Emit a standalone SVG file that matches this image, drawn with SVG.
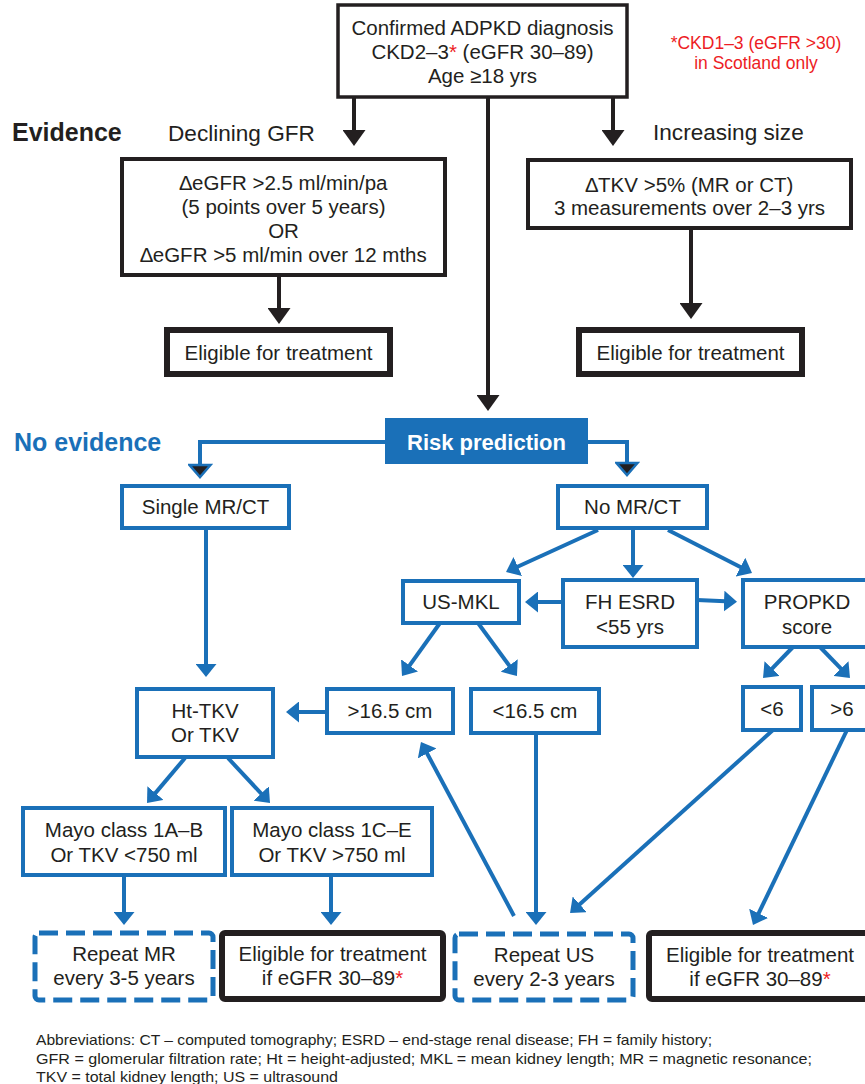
<svg xmlns="http://www.w3.org/2000/svg" width="865" height="1084" viewBox="0 0 865 1084">
<style>
text{font-family:"Liberation Sans",Arial,sans-serif;fill:#231f20;}
.t{font-size:20.5px;text-anchor:middle;}
.lab{font-size:22.6px;}
.hd{font-size:25px;font-weight:bold;}
.red{fill:#ed1c24;}
.bk{fill:#fff;stroke:#231f20;stroke-width:4;}
.bk6{fill:#fff;stroke:#231f20;stroke-width:6;}
.bl{fill:#fff;stroke:#1a70b8;stroke-width:4;}
.dash{fill:#fff;stroke:#1a70b8;stroke-width:5;stroke-dasharray:19 8;}
.cb{fill:none;stroke:#231f20;stroke-width:4;marker-end:url(#ab);}
.cu{fill:none;stroke:#1a70b8;stroke-width:4;marker-end:url(#au);}
.cr{fill:none;stroke:#1a70b8;stroke-width:4;marker-end:url(#ar);}
.ab{font-size:14.5px;}
</style>
<defs>
<marker id="ab" viewBox="0 0 16 23" refX="10" refY="11.5" markerWidth="16" markerHeight="23" markerUnits="userSpaceOnUse" orient="auto"><path d="M0,0 L16,11.5 L0,23 z" fill="#231f20"/></marker>
<marker id="au" viewBox="0 0 13 21" refX="7" refY="10.5" markerWidth="13" markerHeight="21" markerUnits="userSpaceOnUse" orient="auto"><path d="M0,0 L13,10.5 L0,21 z" fill="#1a70b8"/></marker>
<marker id="ar" viewBox="-2 -2 17 25" refX="7" refY="10.5" markerWidth="17" markerHeight="25" markerUnits="userSpaceOnUse" orient="auto"><path d="M0,0 L12,10.5 L0,21 z" fill="#231f20" stroke="#1a70b8" stroke-width="2.5" stroke-linejoin="miter"/></marker>
</defs>

<g id="connectors">
<line class="cb" x1="354" y1="97" x2="354" y2="140"/>
<line class="cb" x1="613" y1="97" x2="613" y2="140"/>
<line class="cb" x1="488" y1="97" x2="488" y2="405"/>
<line class="cb" x1="279" y1="275" x2="279" y2="318"/>
<line class="cb" x1="691" y1="228" x2="691" y2="313"/>
<path class="cr" d="M385,442 H200 V472"/>
<path class="cr" d="M588,442 H627 V470"/>
<line class="cu" x1="206" y1="528" x2="206" y2="671"/>
<line class="cu" x1="598" y1="530" x2="511.5" y2="569.5"/>
<line class="cu" x1="633" y1="528" x2="633" y2="572"/>
<line class="cu" x1="668" y1="530" x2="746.7" y2="570.3"/>
<line class="cu" x1="563" y1="602" x2="531" y2="602"/>
<line class="cu" x1="697" y1="600" x2="731" y2="601.5"/>
<line class="cu" x1="440" y1="623" x2="405.5" y2="671.1"/>
<line class="cu" x1="478" y1="623" x2="513.4" y2="671.2"/>
<line class="cu" x1="793" y1="647" x2="767.2" y2="673.7"/>
<line class="cu" x1="820" y1="647" x2="845.8" y2="673.7"/>
<line class="cu" x1="327" y1="712" x2="292" y2="712"/>
<line class="cu" x1="185" y1="758" x2="150.9" y2="798.4"/>
<line class="cu" x1="228" y1="758" x2="265.9" y2="798.6"/>
<line class="cu" x1="124" y1="875" x2="124" y2="919"/>
<line class="cu" x1="331" y1="875" x2="331" y2="919"/>
<line class="cu" x1="536" y1="733" x2="536" y2="919"/>
<line class="cu" x1="514" y1="916" x2="423.8" y2="747.3"/>
<line class="cu" x1="773" y1="730" x2="574.5" y2="909"/>
<line class="cu" x1="847" y1="730" x2="755.6" y2="919.6"/>
</g>

<g id="labels">
<text class="hd" x="12" y="141">Evidence</text>
<text class="lab" x="168" y="141">Declining GFR</text>
<text class="lab" x="653" y="140">Increasing size</text>
<text class="hd" x="14" y="451" style="fill:#1a70b8">No evidence</text>
<text class="red" x="756" y="49" style="font-size:17.5px;text-anchor:middle">*CKD1–3 (eGFR &gt;30)</text>
<text class="red" x="756" y="69" style="font-size:17.5px;text-anchor:middle">in Scotland only</text>
</g>

<g id="n-top">
<rect x="338" y="5" width="289" height="92" fill="#fff" stroke="#231f20" stroke-width="3.5"/>
<text class="t" x="482.5" y="35">Confirmed ADPKD diagnosis</text>
<text class="t" x="482.5" y="59">CKD2–3<tspan class="red">*</tspan> (eGFR 30–89)</text>
<text class="t" x="482.5" y="83">Age ≥18 yrs</text>
</g>

<g id="n-gfr">
<rect class="bk" x="122" y="159" width="323" height="116"/>
<text class="t" x="283.5" y="190">∆eGFR &gt;2.5 ml/min/pa</text>
<text class="t" x="283.5" y="214">(5 points over 5 years)</text>
<text class="t" x="283.5" y="238">OR</text>
<text class="t" x="283.5" y="262">∆eGFR &gt;5 ml/min over 12 mths</text>
</g>

<g id="n-tkv">
<rect class="bk" x="528" y="160" width="323" height="68"/>
<text class="t" x="689.5" y="192">∆TKV &gt;5% (MR or CT)</text>
<text class="t" x="689.5" y="215">3 measurements over 2–3 yrs</text>
</g>

<g id="n-elig1">
<rect class="bk6" x="167" y="330" width="223" height="44"/>
<text class="t" x="278.5" y="360">Eligible for treatment</text>
</g>

<g id="n-elig2">
<rect class="bk6" x="579" y="330" width="223" height="44"/>
<text class="t" x="690.5" y="360">Eligible for treatment</text>
</g>

<g id="n-risk">
<rect x="385" y="418" width="203" height="46" fill="#1a70b8"/>
<text x="486.5" y="450" style="font-size:22px;font-weight:bold;fill:#fff;text-anchor:middle">Risk prediction</text>
</g>

<g id="n-single">
<rect class="bl" x="122" y="486" width="167" height="42"/>
<text class="t" x="205.5" y="514">Single MR/CT</text>
</g>

<g id="n-nomr">
<rect class="bl" x="558" y="486" width="149" height="42"/>
<text class="t" x="632.5" y="514">No MR/CT</text>
</g>

<g id="n-usmkl">
<rect class="bl" x="403" y="581" width="116" height="42"/>
<text class="t" x="461" y="609">US-MKL</text>
</g>

<g id="n-fh">
<rect class="bl" x="563" y="580" width="134" height="67"/>
<text class="t" x="630" y="609">FH ESRD</text>
<text class="t" x="630" y="634">&lt;55 yrs</text>
</g>

<g id="n-propkd">
<rect class="bl" x="743" y="580" width="128" height="67"/>
<text class="t" x="807" y="609">PROPKD</text>
<text class="t" x="807" y="634">score</text>
</g>

<g id="n-gt165">
<rect class="bl" x="327" y="689" width="126" height="44"/>
<text class="t" x="390" y="718">&gt;16.5 cm</text>
</g>

<g id="n-lt165">
<rect class="bl" x="471" y="689" width="128" height="44"/>
<text class="t" x="535" y="718">&lt;16.5 cm</text>
</g>

<g id="n-lt6">
<rect class="bl" x="743" y="687" width="58" height="43"/>
<text class="t" x="772" y="716">&lt;6</text>
</g>

<g id="n-gt6">
<rect class="bl" x="812" y="687" width="60" height="43"/>
<text class="t" x="842" y="716">&gt;6</text>
</g>

<g id="n-httkv">
<rect class="bl" x="137" y="689" width="136" height="68"/>
<text class="t" x="205" y="718">Ht-TKV</text>
<text class="t" x="205" y="742">Or TKV</text>
</g>

<g id="n-mayo1">
<rect class="bl" x="23" y="808" width="202" height="67"/>
<text class="t" x="124" y="837">Mayo class 1A–B</text>
<text class="t" x="124" y="862">Or TKV &lt;750 ml</text>
</g>

<g id="n-mayo2">
<rect class="bl" x="232" y="808" width="200" height="67"/>
<text class="t" x="332" y="837">Mayo class 1C–E</text>
<text class="t" x="332" y="862">Or TKV &gt;750 ml</text>
</g>

<g id="n-repmr">
<rect class="dash" x="35" y="933" width="178" height="67" rx="4"/>
<text class="t" x="124" y="961">Repeat MR</text>
<text class="t" x="124" y="985">every 3-5 years</text>
</g>

<g id="n-elig3">
<rect class="bk6" x="222" y="933" width="221" height="66" rx="3"/>
<text class="t" x="332.5" y="961">Eligible for treatment</text>
<text class="t" x="332.5" y="985">if eGFR 30–89<tspan class="red">*</tspan></text>
</g>

<g id="n-repus">
<rect class="dash" x="455" y="934" width="178" height="66" rx="4"/>
<text class="t" x="544" y="962">Repeat US</text>
<text class="t" x="544" y="986">every 2-3 years</text>
</g>

<g id="n-elig4">
<rect class="bk6" x="649" y="933" width="222" height="66" rx="3"/>
<text class="t" x="760" y="962">Eligible for treatment</text>
<text class="t" x="760" y="986">if eGFR 30–89<tspan class="red">*</tspan></text>
</g>

<g id="abbrev">
<text class="ab" x="36" y="1045" textLength="676" lengthAdjust="spacingAndGlyphs">Abbreviations: CT – computed tomography; ESRD – end-stage renal disease; FH = family history;</text>
<text class="ab" x="36" y="1064" textLength="776" lengthAdjust="spacingAndGlyphs">GFR = glomerular filtration rate; Ht = height-adjusted; MKL = mean kidney length; MR = magnetic resonance;</text>
<text class="ab" x="36" y="1082" textLength="302" lengthAdjust="spacingAndGlyphs">TKV = total kidney length; US = ultrasound</text>
</g>
</svg>
